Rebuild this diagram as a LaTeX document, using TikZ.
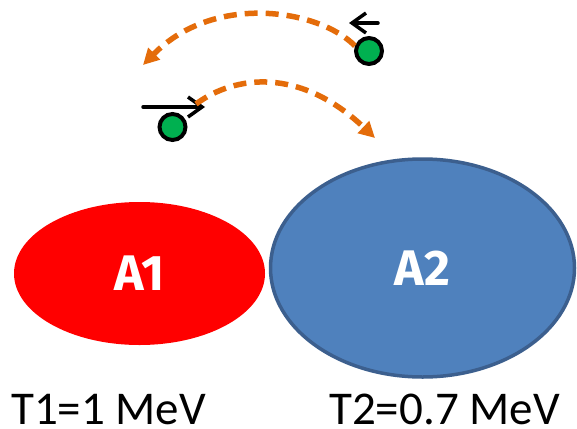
\documentclass[tikz,border=0pt]{standalone}
\usepackage{fontspec}
\setmainfont{Carlito}
\newfontfamily\labelfont{Fira Sans}
\usetikzlibrary{shapes.geometric,arrows.meta}
\definecolor{nucred}{RGB}{255,0,0}
\definecolor{nucblue}{RGB}{79,129,189}
\definecolor{nucedge}{RGB}{60,95,142}
\definecolor{ballgreen}{RGB}{0,176,80}
\definecolor{hoporange}{RGB}{228,108,10}
\tikzset{
  nucleus/.style={ellipse, inner sep=0pt, text=white,
    font=\labelfont\bfseries\fontsize{50}{50}\selectfont},
  ball/.style={circle, draw=black, line width=4pt, fill=ballgreen,
    minimum size=26pt, inner sep=0pt},
  hop/.style={draw=hoporange, line width=5.5pt, dash pattern=on 13pt off 8pt,
    -{Triangle[length=16pt,width=16pt]}},
  spin/.style={draw=black, line width=3.5pt, line cap=round,
    -{Straight Barb[length=14pt,width=20pt]}},
  energy/.style={anchor=base west, inner sep=0pt, font=\fontsize{47}{47}\selectfont}
}
\begin{document}
\begin{tikzpicture}[x=1pt,y=-1pt]
\useasboundingbox (0,0) rectangle (577,428);
% the two nuclei
\node[nucleus, fill=nucred, minimum width=251pt, minimum height=143pt]
  (A1) at (139.5,273.5) {A1};
\node[nucleus, fill=nucblue, draw=nucedge, line width=3.5pt,
  minimum width=304pt, minimum height=218pt] (A2) at (422.5,268) {A2};
% energies
\node[energy] (T1) at (11,424) {T1=1 MeV};
\node[energy] (T2) at (329,424) {T2=0.7 MeV};
% particles
\node[ball] (p1) at (369,51) {};
\node[ball] (p2) at (172.5,127) {};
% spin / momentum arrows
\coordinate (s1a) at (378,23);
\coordinate (s1b) at (349,23);
\coordinate (s2a) at (143,107);
\coordinate (s2b) at (205,107);
\draw[spin] (s1a) -- (s1b);
\draw[spin] (s2a) -- (s2b);
% hopping paths
\coordinate (h1e) at (143,65);
\coordinate (h2s) at (196,104);
\coordinate (h2e) at (375,138);
\draw[hop] (p1.160) .. controls (320,10) and (215,-8) .. (h1e);
\draw[hop] (h2s) .. controls (235,75) and (300,67) .. (h2e);
\end{tikzpicture}
\end{document}
